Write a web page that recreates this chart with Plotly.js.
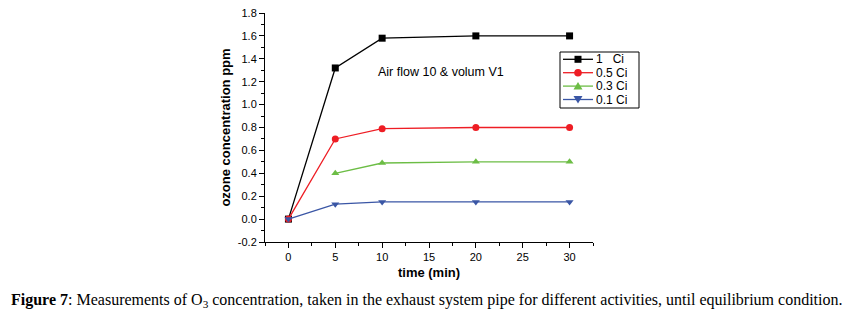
<!DOCTYPE html>
<html>
<head>
<meta charset="utf-8">
<script src="https://cdn.plot.ly/plotly-3.0.1.min.js"></script>
<style>html,body{margin:0;padding:0;background:#fff;}#chart{width:852px;height:319px;}</style>
</head>
<body>
<div id="chart"></div>
<script>
const time = [0, 5, 10, 20, 30];
const time03 = [5, 10, 20, 30];
const ci1 = [0, 1.32, 1.58, 1.60, 1.60];
const ci05 = [0, 0.70, 0.79, 0.80, 0.80];
const ci03 = [0.40, 0.49, 0.50, 0.50];
const ci01 = [0, 0.13, 0.15, 0.15, 0.15];
const names = ["1   Ci", "0.5 Ci", "0.3 Ci", "0.1 Ci"];
const colors = ['#000000', '#ee1d24', '#6cbd45', '#3a56a5'];
const symbols = ['square', 'circle', 'triangle-up', 'triangle-down'];
const xTicks = [0, 5, 10, 15, 20, 25, 30];
const yTicks = [-0.2, 0.0, 0.2, 0.4, 0.6, 0.8, 1.0, 1.2, 1.4, 1.6, 1.8];

const W = 852, H = 319, ML = 265, MR = 259, MT = 13, MB = 77;
const PW = W - ML - MR, PH = H - MT - MB;
const px = p => (p - ML) / PW;
const py = p => (H - MB - p) / PH;

function tr(x, y, i) {
  return {x: x, y: y, name: names[i], type: 'scatter', mode: 'lines+markers',
    line: {color: colors[i], width: 1.3}, showlegend: false,
    marker: {color: colors[i], symbol: symbols[i], size: 7}};
}
const data = [tr(time, ci1, 0), tr(time, ci05, 1), tr(time03, ci03, 2), tr(time, ci01, 3)];

// hand-drawn compact legend
const shapes = [];
const annotations = [];
const legL = 560, legR = 639, legT = 52, legB = 108;
shapes.push({type: 'rect', xref: 'paper', yref: 'paper', x0: px(legL), x1: px(legR), y0: py(legB), y1: py(legT),
  line: {color: '#000', width: 1}, fillcolor: '#fff', layer: 'above'});
const markerPaths = {
  'square': 'M-3.5,3.5 L3.5,3.5 L3.5,-3.5 L-3.5,-3.5 Z',
  'triangle-up': 'M0,4 L4.5,-3.5 L-4.5,-3.5 Z',
  'triangle-down': 'M0,-4 L4.5,3.5 L-4.5,3.5 Z'
};
names.forEach((n, i) => {
  const yc = 59.3 + i * 13.4;
  shapes.push({type: 'line', xref: 'paper', yref: 'paper', x0: px(563), x1: px(593), y0: py(yc), y1: py(yc),
    line: {color: colors[i], width: 1.3}, layer: 'above'});
  if (symbols[i] === 'circle') {
    shapes.push({type: 'circle', xref: 'paper', yref: 'paper', xsizemode: 'pixel', ysizemode: 'pixel',
      xanchor: px(578), yanchor: py(yc), x0: -3.8, x1: 3.8, y0: -3.8, y1: 3.8,
      fillcolor: colors[i], line: {color: colors[i], width: 0}, layer: 'above'});
  } else {
    shapes.push({type: 'path', xref: 'paper', yref: 'paper', xsizemode: 'pixel', ysizemode: 'pixel',
      xanchor: px(578), yanchor: py(yc), path: markerPaths[symbols[i]],
      fillcolor: colors[i], line: {color: colors[i], width: 0}, layer: 'above'});
  }
  annotations.push({xref: 'paper', yref: 'paper', x: px(595), y: py(yc), xanchor: 'left', yanchor: 'middle',
    text: n.replace(/ /g, '&nbsp;'), showarrow: false, font: {size: 12}, height: 12, borderpad: 0});
});

annotations.push({xref: 'paper', yref: 'paper', x: px(441), y: py(72), xanchor: 'center', yanchor: 'middle',
  text: 'Air flow 10 &amp; volum V1', showarrow: false, font: {size: 12.5}});
annotations.push({xref: 'paper', yref: 'paper', x: px(426), y: py(300), xanchor: 'center', yanchor: 'middle',
  text: '<b>Figure 7</b>: Measurements of O<sub>3</sub> concentration, taken in the exhaust system pipe for different activities, until equilibrium condition.',
  showarrow: false, font: {family: 'Liberation Serif, Times New Roman, serif', size: 16, color: '#000'}});

const layout = {
  width: W, height: H,
  margin: {l: ML, r: MR, t: MT, b: MB},
  paper_bgcolor: '#fff', plot_bgcolor: '#fff',
  font: {family: 'Liberation Sans, Arial, sans-serif', color: '#000', size: 11},
  showlegend: false,
  xaxis: {range: [-2.5, 32.5], showgrid: false, zeroline: false,
    showline: true, linecolor: '#000', linewidth: 1,
    ticks: 'outside', ticklen: 5, tickcolor: '#000',
    tickvals: xTicks, ticktext: xTicks.map(String),
    minor: {ticks: 'outside', ticklen: 3, dtick: 2.5, tick0: 0, tickcolor: '#000', showgrid: false},
    title: {text: '<b>time (min)</b>', font: {size: 13}, standoff: 5}},
  yaxis: {range: [-0.2, 1.8], showgrid: false, zeroline: false,
    showline: true, linecolor: '#000', linewidth: 1,
    ticks: 'outside', ticklen: 5, tickcolor: '#000',
    tickvals: yTicks, ticktext: yTicks.map(v => v.toFixed(1)),
    minor: {ticks: 'outside', ticklen: 3, dtick: 0.1, tick0: 0, tickcolor: '#000', showgrid: false},
    title: {text: '<b>ozone concentration ppm</b>', font: {size: 13}, standoff: 4}},
  shapes: shapes,
  annotations: annotations
};
Plotly.newPlot('chart', data, layout, {displayModeBar: false, staticPlot: true});
</script>
</body>
</html>
